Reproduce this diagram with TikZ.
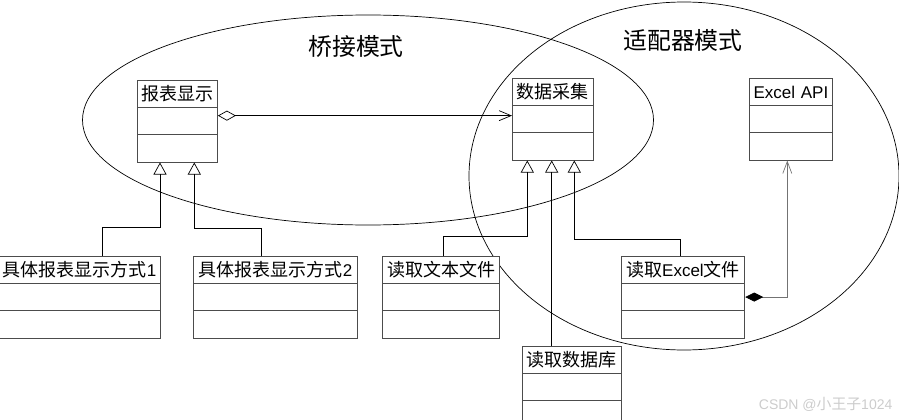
\documentclass[tikz,border=0pt]{standalone}
\usepackage{fontspec}
\setmainfont{Liberation Sans}
\newfontfamily\cjk[Scale=1.06]{Noto Sans CJK SC}
\usepackage{tikz}
\usetikzlibrary{arrows.meta,shapes.multipart,shapes.geometric}
\newcommand{\rowstrut}{\rule[-6.4pt]{0pt}{26.3pt}}
\newcommand{\emptyrows}{\nodepart{two}\rowstrut\nodepart{three}\rowstrut}
\tikzstyle{classbox} =
[
	rectangle split, rectangle split parts=3,
	draw=black!70, fill=white, line width=0.9pt,
	inner sep=0pt, align=center, anchor=north west,
	font=\fontsize{17}{20}\selectfont
]
\tikzstyle{zone} = [draw, ellipse, inner sep=0pt, line width=0.7pt]
\tikzstyle{zonetitle} = [font=\fontsize{22.5}{26}\cjk]
\tikzstyle{inherit} = [-{Triangle[open,length=12pt,width=13pt]}, line width=0.7pt]
\tikzstyle{aggr} =
[
	{Diamond[open,length=18pt,width=10pt]}-{Straight Barb[length=12pt,width=10pt]},
	line width=0.7pt
]
\tikzstyle{compo} =
[
	{Diamond[length=18pt,width=9pt,color=black]}-{Straight Barb[length=12pt,width=9pt]},
	draw=black!55, line width=0.7pt
]
\begin{document}
\begin{tikzpicture}[x=1pt,y=-1pt,semithick]
\useasboundingbox (0,0) rectangle (899,420);

\node[zone, minimum width=571pt, minimum height=210pt] (Bridge) at (368,120) {};
\node[zone, minimum width=430pt, minimum height=348pt] (Adapter) at (684,176) {};
\node[zonetitle] (BridgeT) at (356,46) {桥接模式};
\node[zonetitle] (AdapterT) at (683,40) {适配器模式};

\node[classbox, text width=80pt] (Disp) at (137,80) {{\cjk 报表显示}\rowstrut\emptyrows};
\node[classbox, text width=80.5pt] (Coll) at (512,78) {{\cjk 数据采集}\rowstrut\emptyrows};
\node[classbox, text width=83pt] (Api) at (749,78) {Excel API\rowstrut\emptyrows};
\node[classbox, text width=162pt] (Impl1) at (-2,256) {{\cjk 具体报表显示方式}1\rowstrut\emptyrows};
\node[classbox, text width=163.4pt] (Impl2) at (193.3,256) {{\cjk 具体报表显示方式}2\rowstrut\emptyrows};
\node[classbox, text width=116.7pt] (Txt) at (382.3,256) {{\cjk 读取文本文件}\rowstrut\emptyrows};
\node[classbox, text width=123.6pt] (Xls) at (620.7,256) {{\cjk 读取}Excel{\cjk 文件}\rowstrut\emptyrows};
\node[classbox, text width=98.4pt] (Db) at (522.3,346) {{\cjk 读取数据库}\rowstrut\emptyrows};

\draw[inherit] ([xshift=104.7pt]Impl1.north west) -- ++(0,-29) -| ([xshift=23pt]Disp.south west);
\draw[inherit] ([xshift=67.7pt]Impl2.north west) -- ++(0,-27.7) -| ([xshift=57.3pt]Disp.south west);
\draw[inherit] ([xshift=61pt]Txt.north west) -- ++(0,-20) -| ([xshift=15.3pt]Coll.south west);
\draw[inherit] ([xshift=29.4pt]Db.north west) -- ([xshift=39.7pt]Coll.south west);
\draw[inherit] ([xshift=60pt]Xls.north west) -- ++(0,-16.7) -| ([xshift=62.3pt]Coll.south west);

\coordinate (AggS) at ([yshift=-8pt]Disp.one split east);
\draw[aggr] (AggS) -- (AggS -| Coll.west);
\coordinate (CompS) at ([yshift=-13.4pt]Xls.one split east);
\draw[compo] (CompS) -| ([xshift=38.3pt]Api.south west);

\node[anchor=east, text=black!20, font=\fontsize{14}{16}\selectfont] (Mark) at (896,404) {CSDN @{\cjk 小王子}1024};
\end{tikzpicture}
\end{document}
